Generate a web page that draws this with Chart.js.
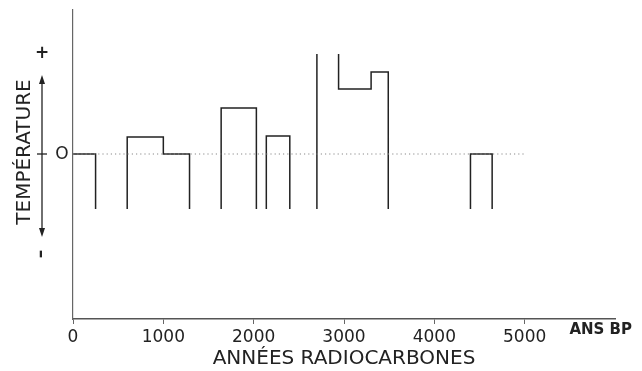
<!DOCTYPE html>
<html>
<head>
<meta charset="utf-8">
<script src="https://cdn.jsdelivr.net/npm/chart.js@4"></script>
<style>
  html,body{margin:0;padding:0;background:#fff;}
  #wrap{width:642px;height:371px;}
</style>
</head>
<body>
<div id="wrap"><canvas id="c" width="642" height="371"></canvas></div>
<script>
// Step outline: years BP and relative temperature (null = break between blocks)
const stepYears = [0, 250, 250, 250,
                   600, 600, 1000, 1000, 1290, 1290, 1290,
                   1640, 1640, 2030, 2030, 2030,
                   2140, 2140, 2400, 2400, 2400,
                   2700, 2700, 2700,
                   2940, 2940, 3300, 3300, 3490, 3490, 3490,
                   4400, 4400, 4640, 4640];
const stepTemps = [0, 0, -0.55, null,
                   -0.55, 0.17, 0.17, 0, 0, -0.55, null,
                   -0.55, 0.46, 0.46, -0.55, null,
                   -0.55, 0.18, 0.18, -0.55, null,
                   -0.55, 1.0, null,
                   1.0, 0.65, 0.65, 0.82, 0.82, -0.55, null,
                   -0.55, 0, 0, -0.55];
const zeroYears = [0, 5000];
const zeroTemps = [0, 0];
const xTickValues = [0, 1000, 2000, 3000, 4000, 5000];

const FONT = "'DejaVu Sans', 'Liberation Sans', sans-serif";
const INK = '#222';

const leftDeco = {
  id: 'leftDeco',
  afterDraw(chart) {
    const {ctx, chartArea, scales: {y}} = chart;
    const ax = chartArea.left - 31;
    const y0 = y.getPixelForValue(0);
    const yp = y.getPixelForValue(1);
    const ym = y.getPixelForValue(-1);
    const yTop = y.getPixelForValue(0.79);
    const yBot = y.getPixelForValue(-0.83);
    ctx.save();
    ctx.strokeStyle = INK;
    ctx.fillStyle = INK;
    ctx.lineWidth = 1.3;
    // arrow shaft
    ctx.beginPath();
    ctx.moveTo(ax, yTop + 6);
    ctx.lineTo(ax, yBot - 6);
    ctx.stroke();
    // arrow heads
    ctx.beginPath();
    ctx.moveTo(ax, yTop); ctx.lineTo(ax - 3, yTop + 9); ctx.lineTo(ax + 3, yTop + 9); ctx.closePath(); ctx.fill();
    ctx.beginPath();
    ctx.moveTo(ax, yBot); ctx.lineTo(ax - 3, yBot - 9); ctx.lineTo(ax + 3, yBot - 9); ctx.closePath(); ctx.fill();
    // zero tick
    ctx.beginPath();
    ctx.moveTo(ax - 5, y0); ctx.lineTo(ax + 5, y0); ctx.stroke();
    // labels
    ctx.textAlign = 'center';
    ctx.textBaseline = 'middle';
    ctx.font = 'bold 17px ' + FONT;
    ctx.fillText('+', ax, yp);
    ctx.font = '17px ' + FONT;
    ctx.fillText('O', chartArea.left - 11, y0 + 1);
    ctx.save();
    ctx.translate(ax, ym);
    ctx.rotate(-Math.PI / 2);
    ctx.font = 'bold 17px ' + FONT;
    ctx.fillText('\u2013', 0, 0);
    ctx.restore();
    ctx.save();
    ctx.translate(chartArea.left - 48, y0 - 2);
    ctx.rotate(-Math.PI / 2);
    ctx.font = '20px ' + FONT;
    ctx.fillText('TEMPÉRATURE', 0, 0);
    ctx.restore();
    // axis unit
    ctx.textAlign = 'right';
    ctx.font = 'bold 15px ' + FONT;
    ctx.fillText('ANS BP', 632, chartArea.bottom + 11);
    ctx.restore();
  }
};

new Chart(document.getElementById('c'), {
  type: 'line',
  data: {
    datasets: [
      {
        data: zeroYears.map((x, i) => ({x, y: zeroTemps[i]})),
        borderColor: '#8a8a8a',
        borderWidth: 1.2,
        borderDash: [1.2, 3],
        pointRadius: 0,
        fill: false
      },
      {
        data: stepYears.map((x, i) => ({x, y: stepTemps[i]})),
        borderColor: INK,
        borderWidth: 1.5,
        pointRadius: 0,
        spanGaps: false,
        fill: false,
        tension: 0
      }
    ]
  },
  plugins: [leftDeco],
  options: {
    responsive: false,
    animation: false,
    layout: {padding: {left: 73, right: 27, top: 10, bottom: 0}},
    plugins: {legend: {display: false}, tooltip: {enabled: false}},
    scales: {
      x: {
        type: 'linear',
        min: 0,
        max: 6000,
        afterBuildTicks: s => { s.ticks = xTickValues.map(v => ({value: v})); },
        afterFit: s => { s.height = 52; s.paddingLeft = 0; s.paddingRight = 0; },
        grid: {display: true, drawOnChartArea: false, drawTicks: true, tickLength: 5, color: '#666', lineWidth: 1},
        border: {display: true, color: '#555', width: 1.5},
        ticks: {color: INK, font: {family: FONT, size: 17}, padding: 3, maxRotation: 0, callback: v => String(v)},
        title: {display: true, text: 'ANNÉES RADIOCARBONES', color: INK, font: {family: FONT, size: 20, lineHeight: 1.2}, padding: {top: 0, bottom: 0}}
      },
      y: {
        type: 'linear',
        min: -1.65,
        max: 1.44,
        afterFit: s => { s.width = 0; },
        grid: {display: false, drawTicks: false},
        border: {display: true, color: '#666', width: 1.2},
        ticks: {display: false}
      }
    }
  }
});
</script>
</body>
</html>
